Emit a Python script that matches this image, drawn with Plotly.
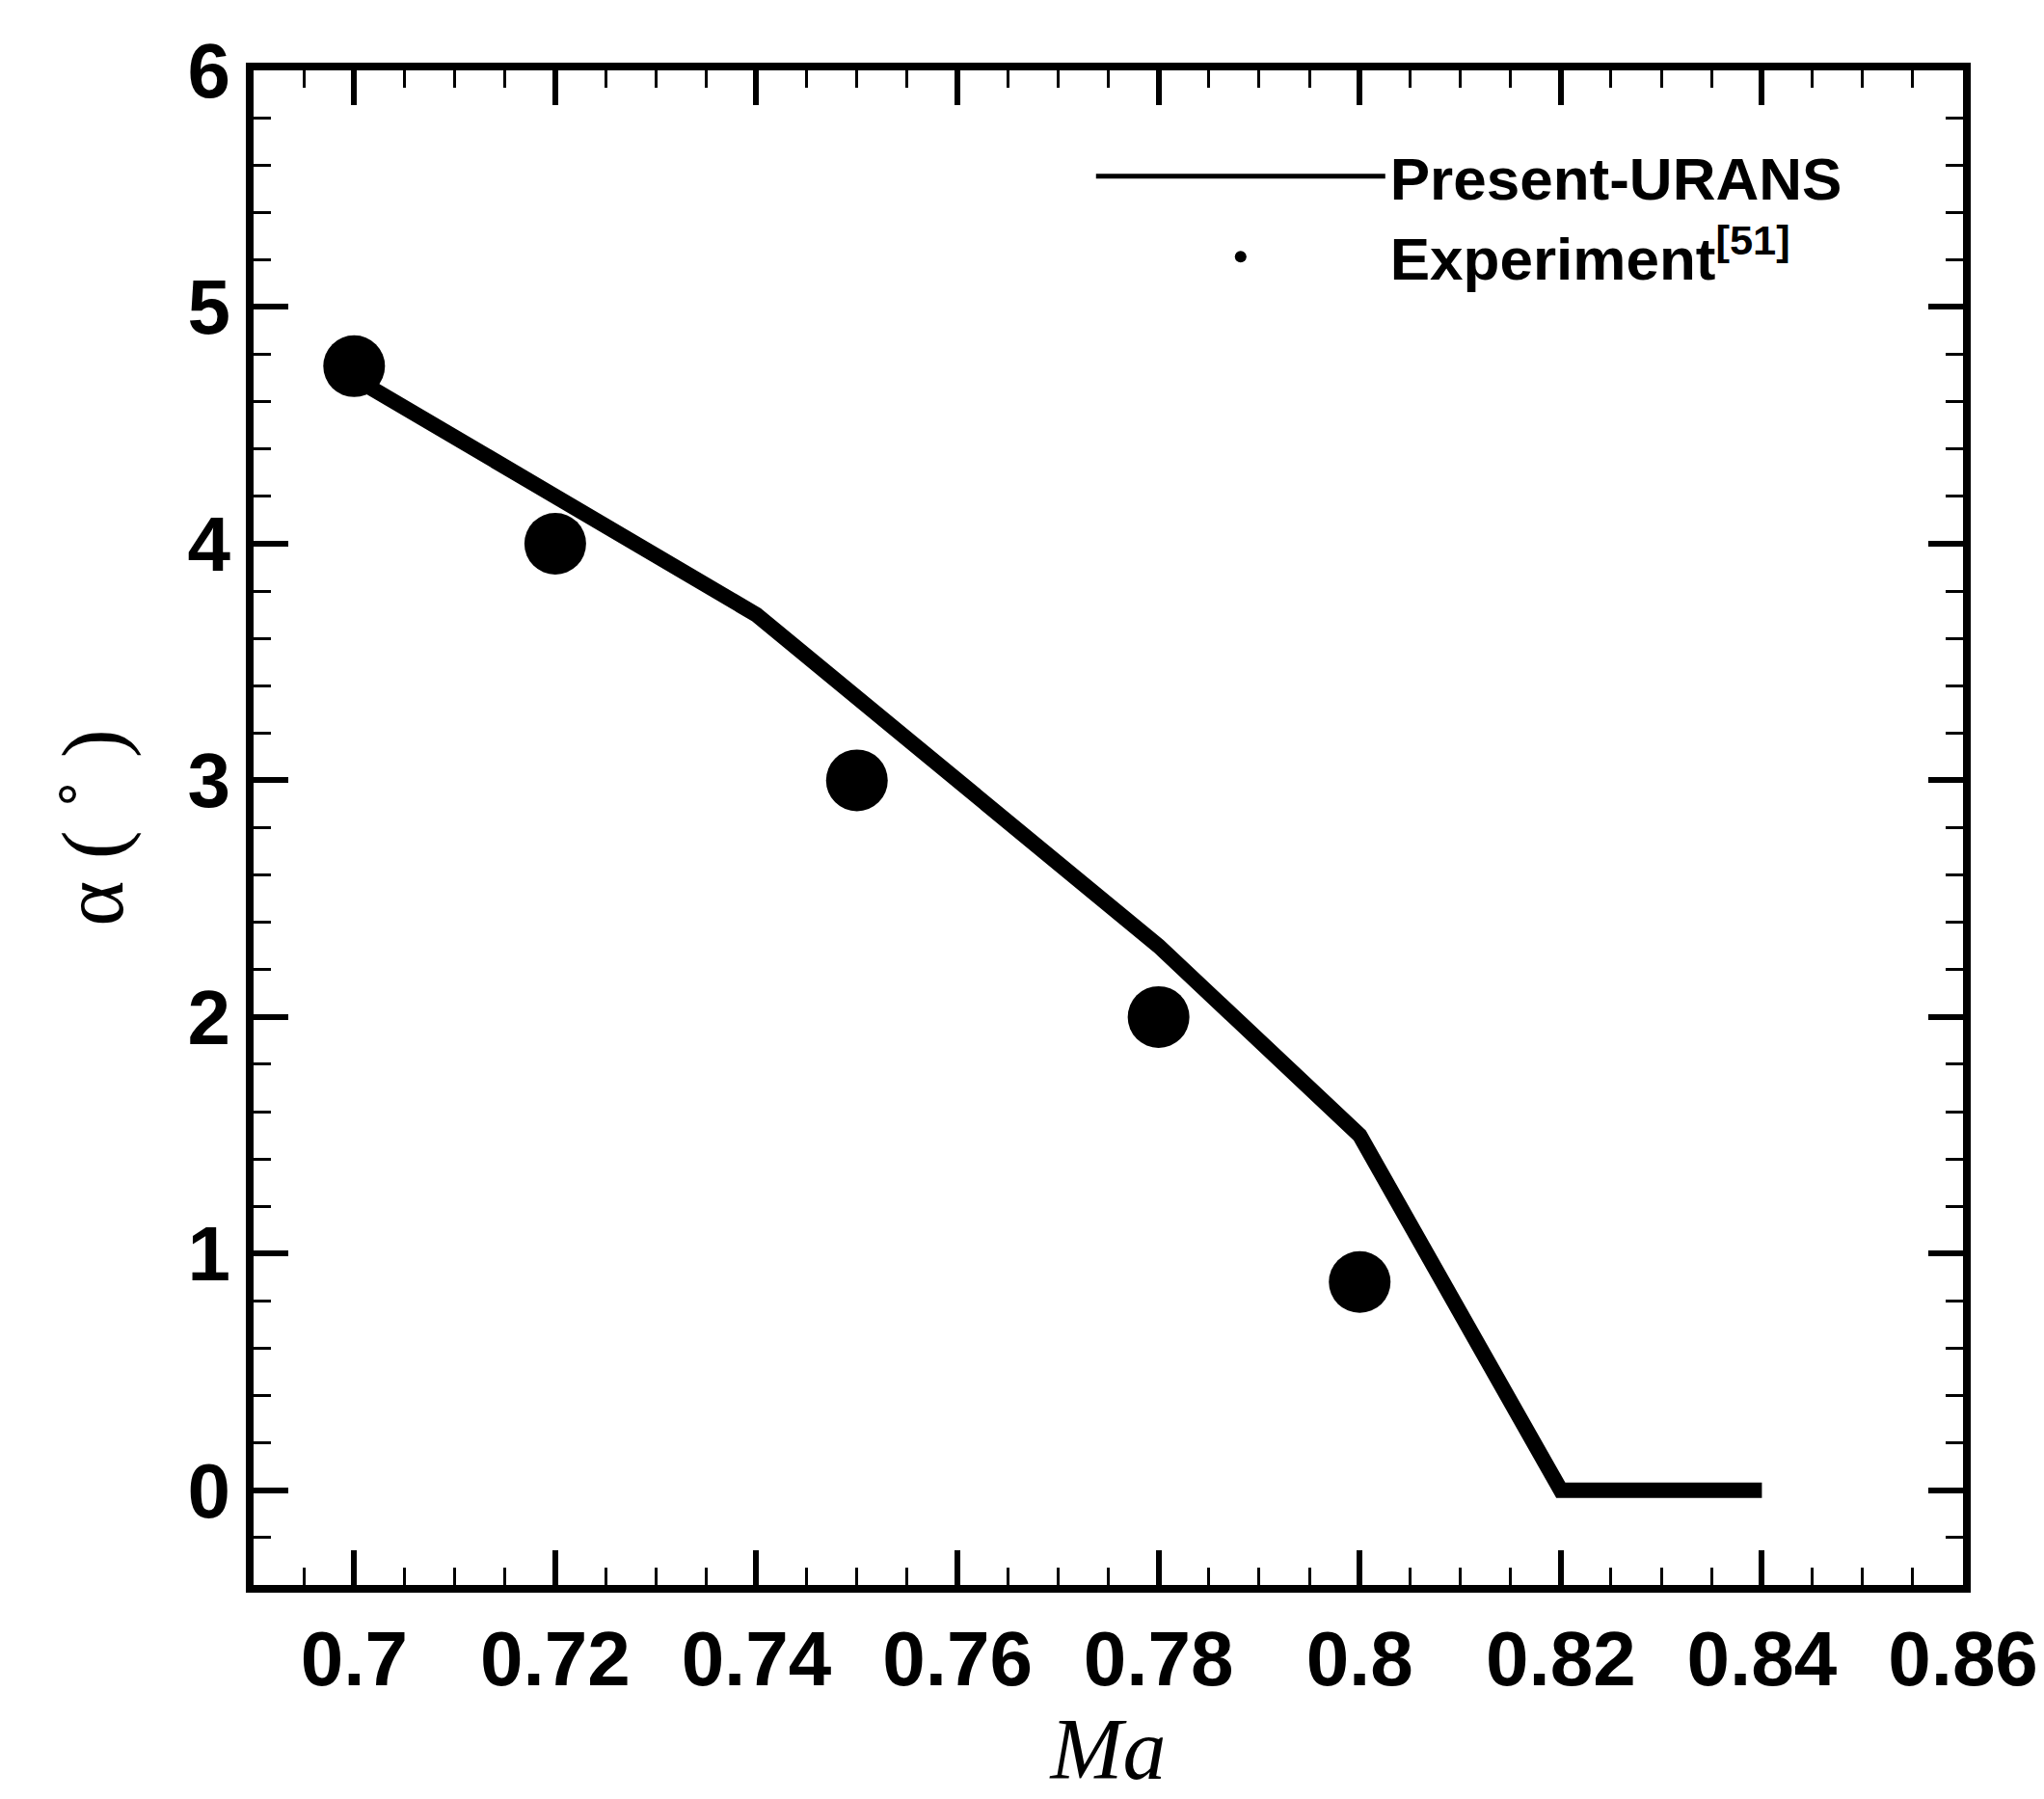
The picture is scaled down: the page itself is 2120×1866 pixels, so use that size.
import plotly.graph_objects as go

ma_line = [0.70, 0.74, 0.78, 0.80, 0.82, 0.84]
alpha_line = [4.70, 3.70, 2.30, 1.50, 0.0, 0.0]
ma_exp = [0.70, 0.72, 0.75, 0.78, 0.80]
alpha_exp = [4.75, 4.00, 3.00, 2.00, 0.88]

fig = go.Figure()
fig.add_trace(go.Scatter(x=ma_line, y=alpha_line, mode="lines", name="<b>Present-URANS</b>",
                         line=dict(color="black", width=16)))
fig.add_trace(go.Scatter(x=ma_exp, y=alpha_exp, mode="markers", name="<b>Experiment<sup>[51]</sup></b>",
                         marker=dict(color="black", size=64, symbol="circle")))

axfont = dict(family="Liberation Sans", size=80, color="black", weight="bold")
common = dict(showgrid=False, zeroline=False, showline=True, linecolor="black", linewidth=8,
              mirror="allticks", ticks="inside", ticklen=36, tickwidth=6, tickcolor="black",
              tickfont=axfont)
fig.update_xaxes(range=[0.69, 0.86], tickvals=[0.7,0.72,0.74,0.76,0.78,0.8,0.82,0.84,0.86],
                 ticktext=["0.7","0.72","0.74","0.76","0.78","0.8","0.82","0.84","0.86"],
                 minor=dict(dtick=0.005, tick0=0.7, ticks="inside", ticklen=18, tickwidth=3, tickcolor="black"),
                 title=dict(text="<i>Ma</i>", font=dict(family="Liberation Serif", size=90, color="black"), standoff=5),
                 **common)
fig.update_yaxes(range=[-0.4, 6], tickvals=[0,1,2,3,4,5,6],
                 minor=dict(dtick=0.2, tick0=0, ticks="inside", ticklen=18, tickwidth=3, tickcolor="black"),
                 title=dict(text="α ( ˚ )", font=dict(family="Liberation Serif", size=90, color="black"), standoff=40),
                 **common)
fig.update_layout(width=2120, height=1866, plot_bgcolor="white", paper_bgcolor="white",
                  margin=dict(l=255, r=92, t=65, b=230),
                  legend=dict(x=0.49, y=0.96, xanchor="left", yanchor="top", bgcolor="rgba(0,0,0,0)",
                              font=dict(family="Liberation Sans", size=62, color="black"),
                              itemwidth=300, itemsizing="constant", tracegroupgap=20),
                  font=dict(family="Liberation Sans"))
fig.write_html("out.html")
